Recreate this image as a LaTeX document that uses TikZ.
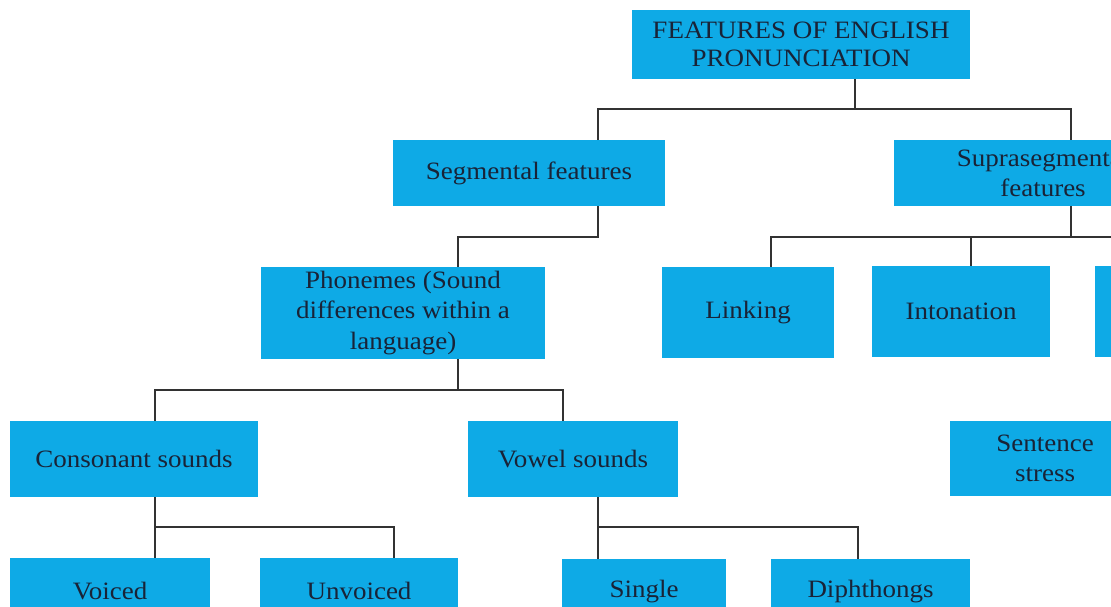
\documentclass[tikz,border=0pt]{standalone}
\usepackage{fontspec}
\setmainfont{Liberation Serif}[FakeStretch=1.08]
\definecolor{boxblue}{RGB}{14,170,230}
\definecolor{txt}{RGB}{25,35,55}
\definecolor{linec}{RGB}{50,50,50}
\begin{document}
\begin{tikzpicture}[x=1pt,y=-1pt,
  box/.style={rectangle,fill=boxblue,inner sep=0pt,align=center,text=txt,
    font=\fontsize{25}{30.5}\selectfont},
  conn/.style={draw=linec,line width=1.6pt}]
\useasboundingbox (0,0) rectangle (1111,607);
\clip (0,0) rectangle (1111,607);
\fill[white] (0,0) rectangle (1111,607);
% nodes
\node[box,minimum width=338pt,minimum height=69pt,font=\fontsize{25}{28}\selectfont] (top) at (801,44.5) {FEATURES OF ENGLISH\\PRONUNCIATION};
\node[box,minimum width=272pt,minimum height=66pt] (seg) at (529,173) {Segmental features};
\node[box,minimum width=298pt,minimum height=66pt] (supra) at (1043,173) {Suprasegmental\\features};
\node[box,minimum width=284pt,minimum height=92pt] (phon) at (403,313) {Phonemes (Sound\\differences within a\\language)};
\node[box,minimum width=172pt,minimum height=91pt] (link) at (748,312.5) {Linking};
\node[box,minimum width=178pt,minimum height=91pt] (inton) at (961,311.5) {Intonation};
\node[box,minimum width=178pt,minimum height=91pt] (third) at (1184,311.5) {};
\node[box,minimum width=190pt,minimum height=75pt] (sent) at (1045,458.5) {Sentence\\stress};
\node[box,minimum width=248pt,minimum height=76pt] (cons) at (134,459) {Consonant sounds};
\node[box,minimum width=210pt,minimum height=76pt] (vowel) at (573,459) {Vowel sounds};
\node[box,minimum width=200pt,minimum height=66pt] (voiced) at (110,591) {Voiced};
\node[box,minimum width=198pt,minimum height=66pt] (unvoiced) at (359,591) {Unvoiced};
\node[box,minimum width=164pt,minimum height=66pt] (single) at (644,592) {Single};
\node[box,minimum width=199pt,minimum height=66pt] (diph) at (870.5,592) {Diphthongs};
% junction coordinates
\coordinate (t1) at (855,109);
\coordinate (sb) at (598,109);
\coordinate (pb) at (1071,109);
\coordinate (a1) at (598,237);
\coordinate (b1) at (458,237);
\coordinate (c1) at (1071,237);
\coordinate (d1) at (771,237);
\coordinate (f1) at (971,237);
\coordinate (e1) at (1184,237);
\coordinate (g1) at (458,390);
\coordinate (h1) at (155,390);
\coordinate (i1) at (563,390);
\coordinate (j1) at (155,527);
\coordinate (k1) at (394,527);
\coordinate (l1) at (598,527);
\coordinate (m1) at (858,527);
% connectors
\draw[conn] (top.south -| t1) -- (t1);
\draw[conn] (seg.north -| sb) -- (sb) -- (pb) -- (supra.north -| pb);
\draw[conn] (seg.south -| a1) -- (a1) -- (b1) -- (phon.north -| b1);
\draw[conn] (supra.south -| c1) -- (c1);
\draw[conn] (link.north -| d1) -- (d1) -- (e1) -- (third.north -| e1);
\draw[conn] (f1) -- (inton.north -| f1);
\draw[conn] (phon.south -| g1) -- (g1);
\draw[conn] (cons.north -| h1) -- (h1) -- (i1) -- (vowel.north -| i1);
\draw[conn] (cons.south -| j1) -- (j1) -- (k1) -- (unvoiced.north -| k1);
\draw[conn] (j1) -- (voiced.north -| j1);
\draw[conn] (vowel.south -| l1) -- (l1) -- (m1) -- (diph.north -| m1);
\draw[conn] (l1) -- (single.north -| l1);
\end{tikzpicture}
\end{document}
